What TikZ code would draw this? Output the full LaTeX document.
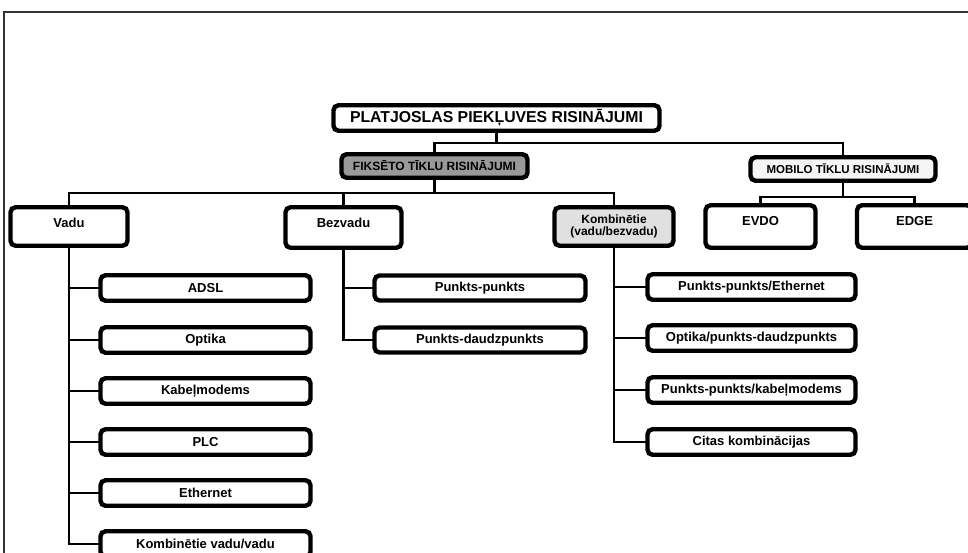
\documentclass[tikz,border=0pt]{standalone}
\usepackage{fontspec}
\setmainfont{Liberation Sans}
\begin{document}
\begin{tikzpicture}[x=1pt,y=-1pt,
  box/.style={draw=black, line width=4.4pt, rounded corners=5pt, inner sep=0pt,
    fill=white, font=\bfseries\fontsize{13}{14}\selectfont},
  leafbox/.style={box, minimum height=25.5pt},
  conn/.style={line width=2.6pt, line cap=rect},
  frameline/.style={draw=black!80, line width=1.4pt}
]
\useasboundingbox (0,0) rectangle (968,552);
\clip (0,0) rectangle (968,552);
\draw[frameline] (4,560) -- (4,12) -- (970,12);

% level 0 and 1
\node[box, minimum width=326pt, minimum height=25.5pt,
  font=\bfseries\fontsize{15.8}{16}\selectfont] (root) at (496.5,118) {PLATJOSLAS PIEKĻUVES RISINĀJUMI};
\node[box, fill=black!40, minimum width=186pt, minimum height=23.5pt,
  font=\bfseries\fontsize{12}{13}\selectfont] (fix) at (434.5,166) {FIKSĒTO TĪKLU RISINĀJUMI};
\node[box, fill=black!4, minimum width=185pt, minimum height=23.5pt,
  font=\bfseries\fontsize{11.5}{12}\selectfont] (mob) at (843,169) {MOBILO TĪKLU RISINĀJUMI};

% level 2
\node[box, minimum width=117pt, text height=20pt, text depth=18.5pt] (vadu) at (69,226.5) {Vadu};
\node[box, minimum width=116pt, text height=20pt, text depth=20.5pt] (bezv) at (343.5,227.5) {Bezvadu};
\node[box, fill=black!12, minimum width=119pt, minimum height=38.5pt, align=center,
  font=\bfseries\fontsize{12}{12}\selectfont] (komb) at (614,226.5) {Kombinētie\\(vadu/bezvadu)};
\node[box, minimum width=110pt, text height=20pt, text depth=22.5pt] (evdo) at (760.5,226.5) {EVDO};
\node[box, minimum width=115pt, text height=20pt, text depth=22.5pt] (edge) at (914.5,226.5) {EDGE};

% Vadu children
\node[leafbox, minimum width=210pt] (adsl) at (205.5,288) {ADSL};
\node[leafbox, minimum width=210pt] (opt) at (205.5,340) {Optika};
\node[leafbox, minimum width=210pt] (kab) at (205.5,391) {Kabeļmodems};
\node[leafbox, minimum width=210pt] (plc) at (205.5,442) {PLC};
\node[leafbox, minimum width=210pt] (eth) at (205.5,493) {Ethernet};
\node[leafbox, minimum width=210pt] (kvv) at (205.5,544) {Kombinētie vadu/vadu};

% Bezvadu children
\node[leafbox, minimum width=211pt, minimum height=25pt] (pp) at (480,288) {Punkts-punkts};
\node[leafbox, minimum width=211pt, minimum height=25pt] (pdp) at (480,340) {Punkts-daudzpunkts};

% Kombinetie children
\node[leafbox, minimum width=208pt] (ppe) at (751.5,287) {Punkts-punkts/Ethernet};
\node[leafbox, minimum width=208pt] (opd) at (751.5,338) {Optika/punkts-daudzpunkts};
\node[leafbox, minimum width=208pt] (ppk) at (751.5,390) {Punkts-punkts/kabeļmodems};
\node[leafbox, minimum width=208pt] (cit) at (751.5,442) {Citas kombinācijas};

% connectors
\coordinate (b1) at (496.5,143);
\coordinate (b2) at (434.5,193);
\coordinate (b3) at (843,197);
\draw[conn] (root.south) -- (b1);
\draw[conn] (fix.north) |- (b1) -| (mob.north);
\draw[conn] (fix.south) -- (b2);
\draw[conn] (vadu.north) |- (b2) -| (bezv.north);
\draw[conn] (b2) -| (komb.north);
\draw[conn] (mob.south) -- (b3);
\draw[conn] (evdo.north) |- (b3) -| (edge.north);

\foreach \c in {adsl,opt,kab,plc,eth,kvv}{\draw[conn] (vadu.south) |- (\c.west);}
\foreach \c in {pp,pdp}{\draw[conn] (bezv.south) |- (\c.west);}
\foreach \c in {ppe,opd,ppk,cit}{\draw[conn] (komb.south) |- (\c.west);}
\end{tikzpicture}
\end{document}
